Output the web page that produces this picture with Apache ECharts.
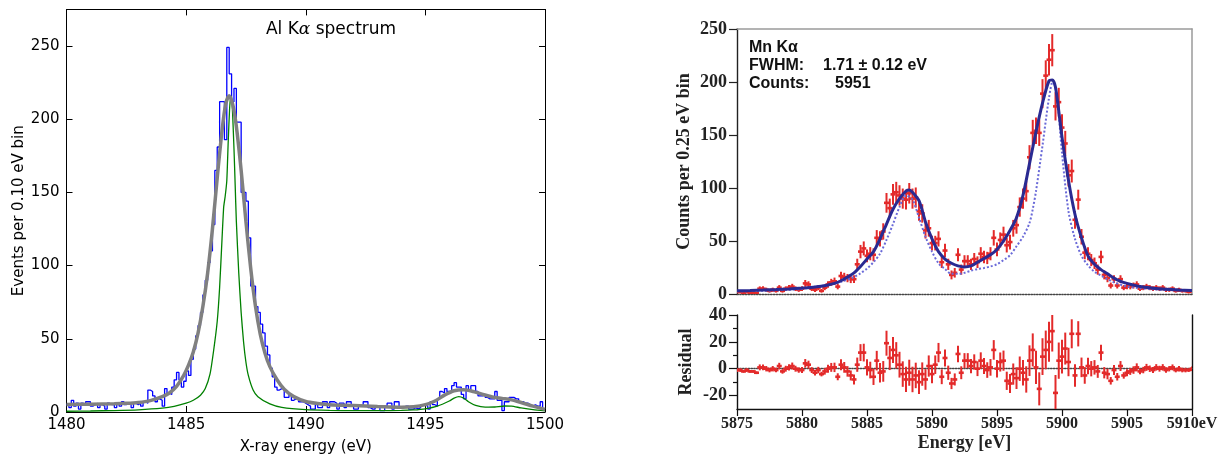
<!DOCTYPE html>
<html>
<head>
<meta charset="utf-8">
<script src="https://cdn.jsdelivr.net/npm/echarts@6/dist/echarts.min.js"></script>
<style>
html,body{margin:0;padding:0;background:#fff;}
#chart{width:1226px;height:464px;}
</style>
</head>
<body>
<div id="chart"></div>
<script>
// ---------------- Left panel: Al K-alpha histogram ----------------
const alBinStart = 1480;
const alBinWidth = 0.1;
const alCounts = [
  5, 3, 8, 4, 6, 2, 6, 5, 7, 7,
  4, 5, 6, 3, 5, 4, 2, 6, 5, 5,
  3, 6, 4, 7, 5, 6, 5, 3, 6, 5,
  6, 4, 7, 6, 15, 14, 11, 7, 9, 8,
  4, 16, 13, 12, 17, 22, 27, 22, 17, 21,
  28, 25, 36, 43, 52, 59, 68, 80, 90, 102,
  110, 128, 165, 181, 212, 212, 186, 249, 231, 212,
  221, 198, 198, 150, 150, 144, 119, 86, 86, 72,
  68, 60, 54, 45, 39, 30, 24, 17, 15, 16,
  16, 10, 10, 12, 8, 9, 9, 7, 7, 6,
  5, 4, 2, 2, 5, 3, 3, 7, 7, 3,
  7, 7, 6, 2, 6, 6, 3, 7, 7, 4,
  2, 2, 4, 4, 7, 7, 3, 2, 2, 4,
  4, 1, 1, 4, 6, 6, 2, 7, 7, 3,
  3, 4, 4, 2, 2, 3, 2, 3, 5, 5,
  4, 2, 7, 5, 4, 9, 14, 13, 16, 14,
  14, 18, 20, 17, 17, 12, 9, 18, 15, 18,
  18, 14, 11, 11, 12, 10, 9, 9, 9, 14,
  8, 8, 1, 7, 7, 10, 10, 9, 9, 7,
  7, 6, 6, 5, 4, 5, 4, 4, 7, 2
];
const alFitTotal = [
  [1480,5.2],[1481,5.3],[1482,5.6],[1482.5,5.9],[1483,6.5],[1483.5,7.8],[1484,10.5],[1484.3,13],
  [1484.6,17.5],[1484.9,25],[1485.1,32],[1485.3,41],[1485.5,54],[1485.7,72],[1485.9,95],[1486.1,125],
  [1486.3,160],[1486.5,192],[1486.65,210],[1486.8,216],[1486.95,210],[1487.1,195],[1487.3,165],
  [1487.5,130],[1487.7,98],[1487.9,72],[1488.1,53],[1488.3,40],[1488.5,31],[1488.8,22],[1489.1,15.5],
  [1489.5,10.5],[1490,7.2],[1490.5,5.8],[1491,5],[1492,4.4],[1493,3.8],[1494,3.3],[1494.5,3.6],
  [1495,5],[1495.4,7.5],[1495.8,11.5],[1496.2,14.5],[1496.6,15.2],[1497,14],[1497.4,12],[1497.8,10.3],
  [1498.2,9.3],[1498.6,8.3],[1499,6.5],[1499.5,4],[1500,1.8]
];
const alLineShape = [
  [1480,0.5],[1481,0.7],[1482,1],[1483,1.5],[1484,2.6],[1484.5,3.8],[1485,6],[1485.3,8],[1485.6,11.5],
  [1485.8,16],[1486,26],[1486.15,42],[1486.3,62],[1486.4,85],[1486.5,118],[1486.57,140],[1486.63,147],
  [1486.7,158],[1486.76,185],[1486.82,208],[1486.87,216],[1486.93,208],[1487,180],[1487.05,155],
  [1487.1,130],[1487.2,95],[1487.3,68],[1487.4,48],[1487.5,34],[1487.6,25],[1487.8,15],[1488,10.5],
  [1488.5,5.5],[1489,3.2],[1490,1.6],[1491,1.1],[1492,0.9],[1493,0.9],[1494,1.1],[1494.5,1.4],[1495,2.2],
  [1495.5,4],[1496,7.5],[1496.2,9.5],[1496.4,10.5],[1496.6,9.5],[1496.8,7],[1497.1,4.5],[1497.5,3.3],
  [1497.9,3.4],[1498.3,4.1],[1498.6,4],[1499,2.8],[1499.5,1.6],[1500,0.8]
];
const alYTicks = [0, 50, 100, 150, 200, 250];

// ---------------- Right panel: Mn K-alpha ----------------
const mnBinStart = 5875;
const mnBinWidth = 0.25;
const mnCounts = [
  2, 2, 1, 2, 1, 1, 1, 5, 5, 4,
  3, 4, 3, 6, 3, 5, 6, 7, 5, 4,
  5, 10, 9, 5, 4, 6, 3, 6, 9, 11,
  12, 7, 17, 16, 15, 14, 14, 28, 40, 43,
  36, 38, 37, 53, 52, 59, 86, 81, 94, 96,
  93, 90, 89, 95, 90, 91, 78, 76, 60, 62,
  48, 48, 52, 30, 41, 28, 18, 20, 37, 23,
  31, 31, 28, 33, 30, 38, 35, 34, 38, 53,
  42, 51, 56, 46, 49, 62, 65, 82, 90, 97,
  129, 152, 154, 152, 189, 206, 221, 230, 177, 181,
  157, 142, 112, 116, 70, 89, 54, 39, 38, 32,
  29, 23, 35, 18, 15, 8, 14, 8, 14, 6,
  7, 7, 8, 9, 5, 6, 7, 6, 5, 6,
  5, 6, 4, 4, 5, 3, 4, 3, 3, 2,
  3
];
const mnErrors = [
  1.4, 1.4, 1, 1.4, 1, 1, 1, 2.2, 2.2, 2,
  1.7, 2, 1.7, 2.4, 1.7, 2.2, 2.4, 2.6, 2.2, 2,
  2.2, 3.2, 3, 2.2, 2, 2.4, 1.7, 2.4, 3, 3.3,
  3.5, 2.6, 4.1, 4, 3.9, 3.7, 3.7, 5.3, 6.3, 6.6,
  6, 6.2, 6.1, 7.3, 7.2, 7.7, 9.3, 9, 9.7, 9.8,
  9.6, 9.5, 9.4, 9.7, 9.5, 9.5, 8.8, 8.7, 7.7, 7.9,
  6.9, 6.9, 7.2, 5.5, 6.4, 5.3, 4.2, 4.5, 6.1, 4.8,
  5.6, 5.6, 5.3, 5.7, 5.5, 6.2, 5.9, 5.8, 6.2, 7.3,
  6.5, 7.1, 7.5, 6.8, 7, 7.9, 8.1, 9.1, 9.5, 9.8,
  11.4, 12.3, 12.4, 12.3, 13.7, 14.4, 14.9, 15.2, 13.3, 13.5,
  12.5, 11.9, 10.6, 10.8, 8.4, 9.4, 7.3, 6.2, 6.2, 5.7,
  5.4, 4.8, 5.9, 4.2, 3.9, 2.8, 3.7, 2.8, 3.7, 2.4,
  2.6, 2.6, 2.8, 3, 2.2, 2.4, 2.6, 2.4, 2.2, 2.4,
  2.2, 2.4, 2, 2, 2.2, 1.7, 2, 1.7, 1.7, 1.4,
  1.7
];
const mnResiduals = [
  -1, -1, -2, -1, -2, -2, -3, 1, 1, 0,
  -1, 0, -1, 2, -2, 0, 1, 2, 0, -1,
  -1, 4, 3, -1, -3, -1, -4, -2, 0, 1,
  1, -6, 3, 1, -2, -5, -8, 3, 12, 12,
  1, -1, -6, 6, -3, -2, 19, 8, 14, 10,
  3, -4, -8, -3, -8, -5, -10, -4, -8, 2,
  -4, 3, 12, -6, 8, -3, -11, -8, 11, -3,
  6, 6, 2, 5, 0, 6, 2, -1, 1, 14,
  0, 5, 6, -9, -11, -4, -7, 0, -3, -8,
  6, 14, 1, -15, 9, 14, 20, 28, -18, 6,
  9, 15, 5, 26, -5, 26, 1, -5, 2, 0,
  1, -2, 12, -3, -4, -9, -1, -6, 2, -5,
  -3, -2, -1, 1, -2, -1, 1, 0, -1, 1,
  0, 1, -1, 0, 1, -1, 0, -1, -1, -1,
  0
];
const mnFit = [
  [5875,3],[5876,3.3],[5877,3.7],[5878,4.2],[5879,4.8],[5880,5.6],[5881,6.6],[5882,8.5],[5882.5,10],
  [5883,12.5],[5883.5,16],[5884,20],[5884.5,26],[5885,33],[5885.5,40],[5886,52],[5886.5,66],[5887,80],
  [5887.5,90],[5888,97],[5888.25,98],[5888.5,96],[5889,88],[5889.5,68],[5890,52],[5890.5,40],[5891,33],
  [5891.5,29],[5892,26.5],[5892.5,25.5],[5893,26.5],[5893.5,30],[5894,33.5],[5894.5,37],[5895,42],
  [5895.5,50],[5896,60],[5896.5,72],[5897,93],[5897.5,123],[5898,153],[5898.5,180],[5899,201],
  [5899.25,202],[5899.5,195],[5900,148],[5900.5,107],[5901,75],[5901.5,53],[5902,36],[5902.5,28],
  [5903,23],[5903.5,19],[5904,15],[5904.5,12],[5905,10],[5906,7],[5907,5.5],[5908,4.5],[5909,3.8],[5910,3.3]
];
const mnNatural = [
  [5875,2.5],[5877,3],[5879,4],[5880,4.8],[5881,6.8],[5882,8.5],[5883,11.5],[5884,16],[5884.5,19.5],
  [5885,24],[5885.5,30],[5886,38],[5886.5,51],[5887,66],[5887.5,82],[5888,93],[5888.5,89],[5889,72],
  [5889.5,54],[5890,40],[5890.5,29],[5891,23.5],[5891.5,19],[5892,19],[5892.5,20],[5893,22],[5893.5,23.5],
  [5894,24.5],[5894.5,26],[5895,28],[5895.5,32],[5896,36.5],[5896.5,45],[5897,54],[5897.5,67],
  [5897.75,80],[5898,97],[5898.5,140],[5899,185],[5899.3,201],[5899.6,188],[5900,133],[5900.5,78],
  [5901,52],[5901.5,36],[5902,27],[5902.5,21],[5903,17.5],[5903.5,14],[5904,11],[5905,7],[5906,5.5],
  [5907,4.5],[5908,3.8],[5910,3]
];
const mnXLabels = ['5875', '5880', '5885', '5890', '5895', '5900', '5905', '5910eV'];
const resLabelTicks = [-20, 0, 20, 40];
const resMinorTicks = [-10, 10, 30];

// ---------------- build series data ----------------
const alHist = alCounts.map((c, i) => [alBinStart + i * alBinWidth, c]);
alHist.push([alBinStart + alCounts.length * alBinWidth, alCounts[alCounts.length - 1]]);
const mnPoints = mnCounts.map((c, i) => [mnBinStart + i * mnBinWidth, c, mnErrors[i]]);
const mnResPoints = mnResiduals.map((r, i) => [mnBinStart + i * mnBinWidth, r, mnErrors[i]]);

const RED = '#e32a2a';
function errorBar(params, api) {
  const x = api.value(0), y = api.value(1), e = api.value(2);
  const c = api.coord([x, y]);
  const hi = api.coord([x, y + e]);
  const lo = api.coord([x, y - e]);
  return {
    type: 'group',
    children: [
      {type: 'line', shape: {x1: c[0], y1: hi[1], x2: c[0], y2: lo[1]}, style: {stroke: RED, lineWidth: 2}},
      {type: 'line', shape: {x1: c[0] - 2.5, y1: c[1], x2: c[0] + 2.5, y2: c[1]}, style: {stroke: RED, lineWidth: 2.6}}
    ]
  };
}

const sansL = 'DejaVu Sans';
const serif = 'Liberation Serif';
const serifLabel = {fontFamily: serif, fontWeight: 'bold', fontSize: 16, color: '#222'};
const plainNum = v => String(v);

const chart = echarts.init(document.getElementById('chart'), null, {renderer: 'canvas'});
chart.setOption({
  animation: false,
  backgroundColor: '#fff',
  grid: [
    {left: 66.5, top: 9.4, width: 478.5, height: 402.6},
    {left: 737, top: 29, width: 455, height: 265},
    {left: 737, top: 315, width: 455, height: 94}
  ],
  xAxis: [
    { // 0 left bottom
      type: 'value', gridIndex: 0, min: 1480, max: 1500, interval: 5, position: 'bottom',
      axisLine: {onZero: false, lineStyle: {color: '#000', width: 1}},
      axisTick: {inside: true, length: 6, lineStyle: {color: '#000'}},
      axisLabel: {fontFamily: sansL, fontSize: 15, color: '#000', margin: 6, formatter: plainNum},
      splitLine: {show: false},
      name: 'X-ray energy (eV)', nameLocation: 'middle', nameGap: 28,
      nameTextStyle: {fontFamily: sansL, fontSize: 15, color: '#000'}
    },
    { // 1 left top
      type: 'value', gridIndex: 0, min: 1480, max: 1500, interval: 5, position: 'top',
      axisLine: {onZero: false, lineStyle: {color: '#000', width: 1}},
      axisTick: {inside: true, length: 6, lineStyle: {color: '#000'}},
      axisLabel: {show: false}, splitLine: {show: false}
    },
    { // 2 right main bottom: dotted zero line
      type: 'value', gridIndex: 1, min: 5875, max: 5910, interval: 5, position: 'bottom',
      axisLine: {lineStyle: {color: '#444', width: 1.4, type: 'dotted'}},
      axisTick: {show: false}, axisLabel: {show: false}, splitLine: {show: false}
    },
    { // 3 right main top border
      type: 'value', gridIndex: 1, min: 5875, max: 5910, position: 'top',
      axisLine: {onZero: false, lineStyle: {color: '#9a9a9a', width: 1.5}},
      axisTick: {show: false}, axisLabel: {show: false}, splitLine: {show: false}
    },
    { // 4 residual bottom
      type: 'value', gridIndex: 2, min: 5875, max: 5910, interval: 5, position: 'bottom',
      axisLine: {onZero: false, lineStyle: {color: '#111', width: 1.4}},
      axisTick: {inside: false, length: 7, lineStyle: {color: '#111', width: 1.2}},
      axisLabel: Object.assign({margin: 7, formatter: (v, i) => mnXLabels[i]}, serifLabel),
      splitLine: {show: false},
      name: 'Energy [eV]', nameLocation: 'middle', nameGap: 25,
      nameTextStyle: {fontFamily: serif, fontWeight: 'bold', fontSize: 18, color: '#222'}
    },
    { // 5 residual zero dotted line
      type: 'value', gridIndex: 2, min: 5875, max: 5910, position: 'top',
      axisLine: {onZero: true, lineStyle: {color: '#444', width: 1.4, type: 'dotted'}},
      axisTick: {show: false}, axisLabel: {show: false}, splitLine: {show: false}
    }
  ],
  yAxis: [
    { // 0 left panel left
      type: 'value', gridIndex: 0, min: 0, max: 275, position: 'left',
      axisLine: {onZero: false, lineStyle: {color: '#000', width: 1}},
      axisTick: {inside: true, length: 6, customValues: alYTicks, lineStyle: {color: '#000'}},
      axisLabel: {fontFamily: sansL, fontSize: 15, color: '#000', margin: 7, customValues: alYTicks},
      splitLine: {show: false},
      name: 'Events per 0.10 eV bin', nameLocation: 'middle', nameRotate: 90, nameGap: 40,
      nameTextStyle: {fontFamily: sansL, fontSize: 15, color: '#000'}
    },
    { // 1 left panel right
      type: 'value', gridIndex: 0, min: 0, max: 275, position: 'right',
      axisLine: {onZero: false, lineStyle: {color: '#000', width: 1}},
      axisTick: {inside: true, length: 6, customValues: alYTicks, lineStyle: {color: '#000'}},
      axisLabel: {show: false}, splitLine: {show: false}
    },
    { // 2 right main left
      type: 'value', gridIndex: 1, min: 0, max: 250, interval: 50, position: 'left',
      axisLine: {onZero: false, lineStyle: {color: '#222', width: 1.4}},
      axisTick: {inside: false, length: 8, lineStyle: {color: '#222', width: 1.2}},
      axisLabel: Object.assign({}, serifLabel, {margin: 10, fontSize: 18}),
      splitLine: {show: false},
      name: 'Counts per 0.25 eV bin', nameLocation: 'middle', nameRotate: 90, nameGap: 44,
      nameTextStyle: {fontFamily: serif, fontWeight: 'bold', fontSize: 18, color: '#222'}
    },
    { // 3 right main right border
      type: 'value', gridIndex: 1, min: 0, max: 250, position: 'right',
      axisLine: {onZero: false, lineStyle: {color: '#9a9a9a', width: 1.5}},
      axisTick: {show: false}, axisLabel: {show: false}, splitLine: {show: false}
    },
    { // 4 residual left
      type: 'value', gridIndex: 2, min: -30, max: 40, position: 'left',
      axisLine: {onZero: false, lineStyle: {color: '#111', width: 1.4}},
      axisTick: {inside: false, length: 8, customValues: resLabelTicks, lineStyle: {color: '#111', width: 1.2}},
      axisLabel: Object.assign({}, serifLabel, {margin: 10, fontSize: 18, customValues: resLabelTicks}),
      splitLine: {show: false},
      name: 'Residual', nameLocation: 'middle', nameRotate: 90, nameGap: 42,
      nameTextStyle: {fontFamily: serif, fontWeight: 'bold', fontSize: 18, color: '#222'}
    },
    { // 5 residual minor ticks
      type: 'value', gridIndex: 2, min: -30, max: 40, position: 'left',
      axisLine: {show: false, onZero: false},
      axisTick: {inside: false, length: 4, customValues: resMinorTicks, lineStyle: {color: '#111', width: 1.2}},
      axisLabel: {show: false}, splitLine: {show: false}
    },
    { // 6 residual right border
      type: 'value', gridIndex: 2, min: -30, max: 40, position: 'right',
      axisLine: {onZero: false, lineStyle: {color: '#111', width: 1.4}},
      axisTick: {show: false}, axisLabel: {show: false}, splitLine: {show: false}
    }
  ],
  series: [
    {
      name: 'Al histogram', type: 'line', xAxisIndex: 0, yAxisIndex: 0, data: alHist,
      step: 'end', showSymbol: false, lineStyle: {color: '#0000ff', width: 1.3}, z: 2
    },
    {
      name: 'Al line', type: 'line', xAxisIndex: 0, yAxisIndex: 0, data: alLineShape,
      smooth: 0.2, showSymbol: false, lineStyle: {color: '#008000', width: 1.3}, z: 3
    },
    {
      name: 'Al fit', type: 'line', xAxisIndex: 0, yAxisIndex: 0, data: alFitTotal,
      smooth: 0.3, showSymbol: false, lineStyle: {color: '#808080', width: 3.5}, z: 4
    },
    {
      name: 'Mn data', type: 'custom', xAxisIndex: 2, yAxisIndex: 2, data: mnPoints,
      renderItem: errorBar, encode: {x: 0, y: 1}, clip: true, z: 2
    },
    {
      name: 'Mn natural', type: 'line', xAxisIndex: 2, yAxisIndex: 2, data: mnNatural,
      smooth: 0.3, showSymbol: false, lineStyle: {color: '#6a6ad8', width: 2, type: 'dotted'}, z: 3
    },
    {
      name: 'Mn fit', type: 'line', xAxisIndex: 2, yAxisIndex: 2, data: mnFit,
      smooth: 0.3, showSymbol: false, lineStyle: {color: '#2a2a92', width: 3}, z: 4
    },
    {
      name: 'Residual', type: 'custom', xAxisIndex: 4, yAxisIndex: 4, data: mnResPoints,
      renderItem: errorBar, encode: {x: 0, y: 1}, clip: true, z: 3
    }
  ],
  graphic: [
    {
      type: 'text', x: 331, y: 30, z: 10,
      style: {
        text: '{n|Al K}{g|α}{n| spectrum}', align: 'center', verticalAlign: 'middle',
        rich: {
          n: {fontFamily: sansL, fontSize: 17, fill: '#000'},
          g: {fontFamily: 'DejaVu Serif', fontStyle: 'italic', fontSize: 17, fill: '#000'}
        }
      }
    },
    {type: 'text', x: 749, y: 48, z: 10, style: {text: 'Mn Kα', fontFamily: 'Liberation Sans', fontWeight: 'bold', fontSize: 16, fill: '#111', verticalAlign: 'middle'}},
    {type: 'text', x: 749, y: 66, z: 10, style: {text: 'FWHM:', fontFamily: 'Liberation Sans', fontWeight: 'bold', fontSize: 16, fill: '#111', verticalAlign: 'middle'}},
    {type: 'text', x: 823, y: 66, z: 10, style: {text: '1.71 ± 0.12 eV', fontFamily: 'Liberation Sans', fontWeight: 'bold', fontSize: 16, fill: '#111', verticalAlign: 'middle'}},
    {type: 'text', x: 749, y: 84, z: 10, style: {text: 'Counts:', fontFamily: 'Liberation Sans', fontWeight: 'bold', fontSize: 16, fill: '#111', verticalAlign: 'middle'}},
    {type: 'text', x: 835, y: 84, z: 10, style: {text: '5951', fontFamily: 'Liberation Sans', fontWeight: 'bold', fontSize: 16, fill: '#111', verticalAlign: 'middle'}}
  ]
});
</script>
</body>
</html>
